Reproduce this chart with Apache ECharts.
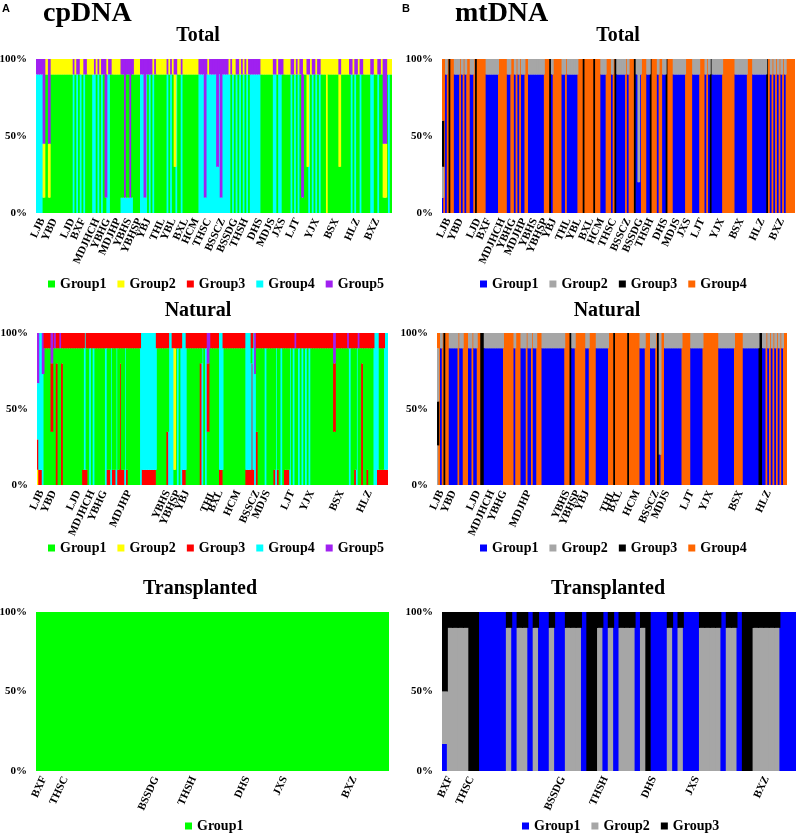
<!DOCTYPE html>
<html><head><meta charset="utf-8">
<script src="https://cdn.jsdelivr.net/npm/echarts@6/dist/echarts.min.js"></script>
<style>html,body{margin:0;padding:0;background:#fff}#c{width:800px;height:835px}</style>
</head><body><div id="c"></div><script>
// ---------------- DATA ----------------
const cpGroups = ['Group1','Group2','Group3','Group4','Group5'];
const mtGroups = ['Group1','Group2','Group3','Group4'];
const mtTransGroups = ['Group1','Group2','Group3'];
const cpColors = ['#00ff00','#ffff00','#ff0000','#00ffff','#a020f0'];
const mtColors = ['#0000ff','#a6a6a6','#000000','#ff6600'];
const yTicks = [0, 50, 100];

// Individual membership types: [group number, percent] from bottom to top
const cpTotalTypes = {
  g:[[1,90],[2,10]], G:[[1,90],[5,10]], c:[[4,90],[2,10]], C:[[4,90],[5,10]],
  e:[[1,10],[2,35],[5,55]], f:[[1,10],[5,90]], k:[[4,10],[5,90]],
  m:[[4,10],[1,80],[5,10]], h:[[1,30],[2,60],[5,10]], p:[[4,30],[5,70]], y:[[2,100]]
};
const cpTotalSeq = "CCCCeggegggggggggggggCgCGcgCGgggcCgCgCGfcCGgggggmmkmmkmggggCCkCGCGcGggggggCgCghCggCgggggggggCCCkCcCCCCpCkCCCCcGcgCGcGcGcGCCCCCCgggggggCCgCCGggggCGcGcGfgghCgCGcGCgggygggggghgggggGCgCGgCGggggCCggCGgeegcg";

const cpNaturalTypes = {
  a:[[1,90],[3,10]], A:[[3,10],[1,80],[3,10]], c:[[4,90],[3,10]], C:[[4,100]],
  K:[[3,10],[4,90]], r:[[3,80],[1,10],[3,10]], b:[[3,35],[1,55],[3,10]],
  v:[[1,90],[5,10]], p:[[1,35],[3,45],[5,20]], y:[[1,10],[2,80],[3,10]],
  q:[[4,73],[5,27]], u:[[2,10],[3,20],[4,37],[5,33]]
};
const cpNaturalSeq = "uKKqaaaapavravraaaaaaaaaaaAKAacacaaaaaacAAcAAcArAAcAaaaaaaaCKKKKKKKKaaaaaabCCcyacacKKaaaaaaaarcacpvaaaaaKKaaaaaaaaaaaaaKKKrKqbaaaacaaaaAcAacaAAAcacvacacacacaaaaaaaaaaaaapaaaaaaavcaaAcvaraaAaaaCCKAAAKK";

const cpTransTypes = { g:[[1,100]] };
const cpTransSeq = "gggggggggggggggggggggggggggggggggggggggggggggggggggggggggggggggggg";

const mtTotalTypes = {
  B:[[1,90],[2,10]], O:[[4,100]], K:[[3,100]], g:[[1,20],[2,80]],
  f:[[1,10],[2,20],[3,30],[4,40]]
};
const mtTotalSeq = "fOBOKOOBBBOBOBOOBBOKOOOOOBBBBBBBOOOOOBBOOBOBOBBOOBBBBBBBBBOOOKBOOOOOBBOBBBBBBOOOKOOOOOKOOOBBBOOOBOKBBBBBOBOOOKBgBOOOBBKOOOBOOBBKOOOBBBBBBBOOOOBBBBOOOBOBKBBBBBBOOOOOOOBBBBBBBOOOBBBBBBBBKOBOBOBOBOBOOOOO";

const mtNaturalTypes = {
  B:[[1,90],[2,10]], O:[[4,100]], K:[[3,100]], g:[[1,20],[2,80]],
  f:[[2,26],[3,29],[2,35],[4,10]]
};
const mtNaturalSeq = "fOBOKOOBBBBBOBBOOOBBOBBOOKKBBBBBBBBBBBOOOOOOBOOOBBBOBBOBBOOOBBBBBBBBBBBBBOOOKBBOOOOOOBBOOOOBBBBBBBOOOKOOOOOOOKOOOOOOBBBOOOBBBOKgOOBBBBBBBBBBOOOOOBBBBBBBOOOOOOOOOBBBBBBBBBOOOOOBBBBBBBBBKKBBOBOBOBOBOBOO";

const mtTransTypes = { f:[[1,17],[2,33],[3,50]], G:[[2,90],[3,10]], B:[[1,100]], K:[[3,100]] };
const mtTransSeq = "fGGGGKKBBBBBGBGGBGBBGBBGGGBKKGBGBGGGBGKBBBGBGBBBGGGGBGGBKKGGGGGBBB";

// population tick labels and the individual index they sit on
const totalPops = ['LJB','YBD','LJD','BXF','MDJHCH','YBHG','MDJHP','YBHS','YBHSP','YBJ','THL','YBL','BXL','HCM','THSC','BSSCZ','BSSDG','THSH','DHS','MDJS','JXS','LJT','YJX','BSX','HLZ','BXZ'];
const totalPopAt = [3,10,20,26,34,40,46,52,58,63,71,77,84,90,97,105,112,118,126,133,139,147,158,169,181,192];
const naturalPops = ['LJB','YBD','LJD','MDJHCH','YBHG','MDJHP','YBHS','YBHSP','YBJ','THL','BXL','HCM','BSSCZ','MDJS','LJT','YJX','BSX','HLZ'];
const naturalPopAt = [2,9,23,31,38,52,74,80,85,100,104,114,125,131,145,156,173,189];
const transPops = ['BXF','THSC','BSSDG','THSH','DHS','JXS','BXZ'];
const transPopAtA = [1,5,22,29,39,46,59];
const transPopAtB = [1,5,22,30,39,47,60];

// ---------------- CHART ----------------
const serif = "'Liberation Serif','Times New Roman',serif";
const panels = [
  {grid:{left:36,top:59,width:356,height:154}, seq:cpTotalSeq, types:cpTotalTypes, colors:cpColors, groups:cpGroups, pops:totalPops, at:totalPopAt, legend:{left:48,top:277}},
  {grid:{left:442,top:59,width:353,height:154}, seq:mtTotalSeq, types:mtTotalTypes, colors:mtColors, groups:mtGroups, pops:totalPops, at:totalPopAt, legend:{left:480,top:277}},
  {grid:{left:37,top:333,width:351,height:152}, seq:cpNaturalSeq, types:cpNaturalTypes, colors:cpColors, groups:cpGroups, pops:naturalPops, at:naturalPopAt, legend:{left:48,top:541}},
  {grid:{left:437,top:333,width:350,height:152}, seq:mtNaturalSeq, types:mtNaturalTypes, colors:mtColors, groups:mtGroups, pops:naturalPops, at:naturalPopAt, legend:{left:480,top:541}},
  {grid:{left:36,top:612,width:353,height:159}, seq:cpTransSeq, types:cpTransTypes, colors:cpColors, groups:['Group1'], pops:transPops, at:transPopAtA, legend:{left:185,top:819}},
  {grid:{left:442,top:612,width:354,height:159}, seq:mtTransSeq, types:mtTransTypes, colors:mtColors, groups:mtTransGroups, pops:transPops, at:transPopAtB, legend:{left:522,top:819}}
];

const grids=[], xAxes=[], yAxes=[], series=[], legends=[];
panels.forEach((p,i)=>{
  grids.push(Object.assign({outerBoundsMode:'none', containLabel:false}, p.grid));
  const chars = p.seq.split('');
  const labelMap = {};
  p.pops.forEach((name,k)=>{ labelMap[p.at[k]] = name; });
  const bw = p.grid.width / chars.length + 1;
  xAxes.push({type:'category', gridIndex:i, data:chars.map((_,j)=>'i'+j),
    axisLine:{show:false}, axisTick:{show:false}, splitLine:{show:false},
    axisLabel:{interval:0, rotate:65, margin:6, fontFamily:serif, fontWeight:'bold', fontSize:11, color:'#000',
      formatter:(v,idx)=>labelMap[idx]||''}});
  yAxes.push({type:'value', gridIndex:i, min:yTicks[0], max:yTicks[2], interval:yTicks[1]-yTicks[0],
    axisLine:{show:false}, axisTick:{show:false}, splitLine:{show:false},
    axisLabel:{formatter:'{value}%', fontFamily:serif, fontWeight:'bold', fontSize:11, color:'#000', margin:9}});
  const layers = Math.max(...Object.values(p.types).map(t=>t.length));
  for(let L=0; L<layers; L++){
    series.push({type:'bar', name:'p'+i+'L'+L, stack:'s'+i, xAxisIndex:i, yAxisIndex:i,
      barWidth:bw, barGap:'0%', silent:true,
      data:chars.map(ch=>{
        const seg = p.types[ch][L];
        if(!seg) return {value:0, itemStyle:{color:'rgba(0,0,0,0)'}};
        const col = p.colors[seg[0]-1];
        return {value:seg[1], itemStyle:{color:col}};
      })});
  }
  p.groups.forEach((g,k)=>series.push({type:'line', name:g, xAxisIndex:i, yAxisIndex:i, data:[],
    itemStyle:{color:p.colors[k]}, lineStyle:{color:p.colors[k]}}));
  legends.push({left:p.legend.left, top:p.legend.top, orient:'horizontal', padding:0, icon:'rect',
    itemWidth:7, itemHeight:7, itemGap:11, selectedMode:false,
    textStyle:{fontFamily:serif, fontWeight:'bold', fontSize:14, color:'#000'},
    data:p.groups.map((g,k)=>({name:g, icon:'rect', itemStyle:{color:p.colors[k]}}))});
});

const tStyle = (size)=>({fontFamily:serif, fontWeight:'bold', fontSize:size, color:'#000'});
const titles = [
  {text:'A', left:2, top:3, padding:0, textStyle:{fontFamily:"'Liberation Sans',Arial,sans-serif", fontWeight:'bold', fontSize:11, color:'#000'}},
  {text:'B', left:402, top:3, padding:0, textStyle:{fontFamily:"'Liberation Sans',Arial,sans-serif", fontWeight:'bold', fontSize:11, color:'#000'}},
  {text:'cpDNA', left:43, top:0, padding:0, textStyle:tStyle(28)},
  {text:'mtDNA', left:455, top:0, padding:0, textStyle:tStyle(28)},
  {text:'Total', left:198, top:26, padding:0, textAlign:'center', textStyle:tStyle(20)},
  {text:'Total', left:618, top:26, padding:0, textAlign:'center', textStyle:tStyle(20)},
  {text:'Natural', left:198, top:301, padding:0, textAlign:'center', textStyle:tStyle(20)},
  {text:'Natural', left:607, top:301, padding:0, textAlign:'center', textStyle:tStyle(20)},
  {text:'Transplanted', left:200, top:579, padding:0, textAlign:'center', textStyle:tStyle(20)},
  {text:'Transplanted', left:608, top:579, padding:0, textAlign:'center', textStyle:tStyle(20)}
];

const chart = echarts.init(document.getElementById('c'), null, {renderer:'canvas', width:800, height:835});
chart.setOption({
  animation:false,
  backgroundColor:'#fff',
  title:titles,
  legend:legends,
  grid:grids,
  xAxis:xAxes,
  yAxis:yAxes,
  series:series
});
</script></body></html>
